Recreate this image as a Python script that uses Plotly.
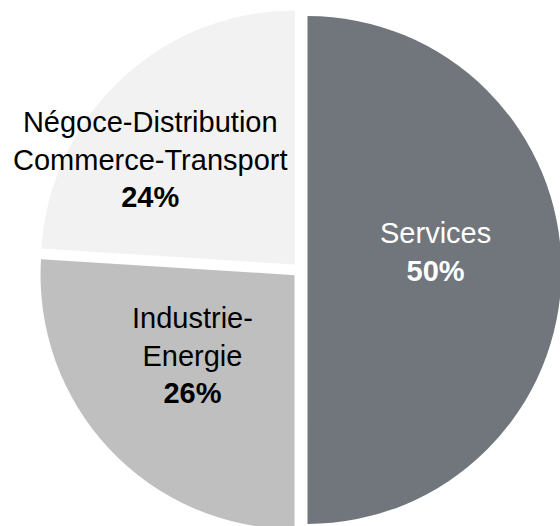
import plotly.graph_objects as go

# Sector breakdown (share of total, %)
sectors = ["Services", "Industrie-Energie", "Négoce-Distribution Commerce-Transport"]
label_lines = [["Services"], ["Industrie-", "Energie"], ["Négoce-Distribution", "Commerce-Transport"]]
shares = [50, 26, 24]

colors = ["#70767C", "#BFBFBF", "#F2F2F2"]
text_colors = ["#FFFFFF", "#000000", "#000000"]

# Canvas and pie geometry (pixels)
W, H = 562, 532
cx, cy = 300, 270
radius = 254
explode = 0.0295
side = 2 * radius * (1 + explode)

# Label anchor points (pixels from top-left)
label_pos = [(435, 252), (192, 355), (150, 159)]

fig = go.Figure(
    go.Pie(
        labels=sectors,
        values=shares,
        sort=False,
        direction="clockwise",
        rotation=0,
        pull=[explode] * len(shares),
        marker=dict(colors=colors, line=dict(width=0)),
        textinfo="none",
        hoverinfo="skip",
        showlegend=False,
        domain=dict(
            x=[(cx - side / 2) / W, (cx + side / 2) / W],
            y=[(H - cy - side / 2) / H, (H - cy + side / 2) / H],
        ),
    )
)

for lines, v, col, (px, py) in zip(label_lines, shares, text_colors, label_pos):
    fig.add_annotation(
        text="<br>".join(lines) + f"<br><b>{v}%</b>",
        x=px / W,
        y=1 - py / H,
        xref="paper",
        yref="paper",
        xanchor="center",
        yanchor="middle",
        showarrow=False,
        align="center",
        font=dict(family="Liberation Sans, Arial, sans-serif", size=29, color=col),
    )

fig.update_layout(
    width=W,
    height=H,
    autosize=False,
    margin=dict(l=0, r=0, t=0, b=0),
    paper_bgcolor="#FFFFFF",
    plot_bgcolor="#FFFFFF",
)

fig.write_html(
    "out.html",
    config={"displayModeBar": False},
    post_script=(
        "document.documentElement.style.overflow='hidden';"
        "document.body.style.overflow='hidden';"
        "document.body.style.margin='0';"
    ),
)
